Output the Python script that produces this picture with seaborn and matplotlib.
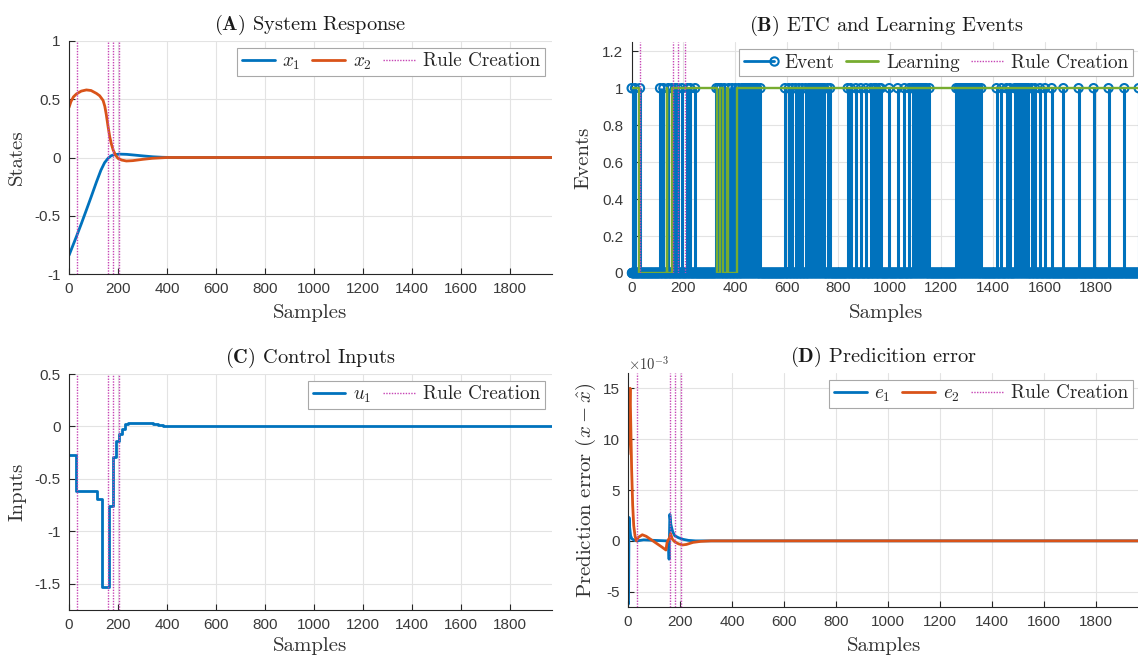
import numpy as np
import pandas as pd
import matplotlib
matplotlib.use("Agg")
import matplotlib.pyplot as plt
import seaborn as sns
from matplotlib.lines import Line2D
from matplotlib.legend_handler import HandlerBase

# ---------------- data ----------------
n_samples = 1970
xticks = [0, 200, 400, 600, 800, 1000, 1200, 1400, 1600, 1800]
rule_creation = [33, 160, 181, 205]

# (A) system response
x1_t = [0, 15, 30, 50, 71, 90, 112, 130, 145, 160, 172, 185, 207, 235, 261, 300, 343, 380, 420, 1970]
x1_v = [-0.84, -0.76, -0.68, -0.57, -0.45, -0.34, -0.21, -0.11, -0.045, -0.005, 0.015, 0.025, 0.029,
        0.027, 0.022, 0.014, 0.006, 0.002, 0.0, 0.0]
x2_t = [0, 8, 18, 30, 50, 71, 90, 112, 125, 139, 146, 152, 159, 166, 173, 180, 190, 200, 215, 234,
        260, 300, 340, 400, 1970]
x2_v = [0.43, 0.48, 0.52, 0.545, 0.57, 0.58, 0.575, 0.55, 0.53, 0.49, 0.44, 0.37, 0.27, 0.18, 0.115,
        0.065, 0.02, -0.008, -0.022, -0.03, -0.027, -0.016, -0.007, 0.0, 0.0]

# (B) events / learning
events = [0, 13, 32,
          110, 123, 142, 156, 168, 179, 195, 216, 227, 246,
          328, 337, 346, 359, 376, 389, 402, 415, 428, 433, 438, 443, 448, 453, 458, 463, 468,
          473, 478, 483, 486, 499,
          594, 609, 623, 635, 648, 661, 674, 687, 692, 697, 702, 707, 712, 717, 722, 727, 732,
          737, 742, 746, 759, 769,
          837, 849, 869, 888, 908, 927, 940, 947, 960, 966, 998, 1031, 1057, 1076, 1089, 1094,
          1099, 1104, 1109, 1114, 1119, 1124, 1129, 1134, 1138, 1141, 1154,
          1258, 1266, 1272, 1278, 1284, 1290, 1296, 1302, 1308, 1314, 1320, 1326, 1332, 1338,
          1344, 1355,
          1414, 1433, 1453, 1466, 1485, 1490, 1495, 1500, 1505, 1510, 1515, 1520, 1525, 1530,
          1537, 1550, 1563, 1582, 1602,
          1628, 1673, 1732, 1790, 1848, 1909, 1965]
learn_t = [0, 30, 136, 138, 158, 329, 342, 355, 370, 372, 410, 1970]
learn_v = [1, 0, 1, 0, 1, 0, 1, 0, 1, 0, 1, 1]

# (C) control input (piecewise constant)
u1_t = [0, 27, 114, 136, 162, 180, 193, 204, 215, 229, 242, 343, 362, 382, 411, 440, 1970]
u1_v = [-0.27, -0.615, -0.69, -1.53, -0.76, -0.29, -0.14, -0.075, -0.025, 0.02, 0.036, 0.026,
        0.016, 0.007, 0.002, 0.0, 0.0]

# (D) prediction error (units of 1e-3)
e1_t = [0, 2, 4, 6, 10, 15, 25, 35, 60, 100, 150, 156, 158, 161, 165, 172, 180, 195, 212, 232,
        260, 1970]
e1_v = [-6.0, -6.2, 2.3, 1.4, 0.5, 0.2, 0.05, 0.0, 0.1, 0.05, 0.0, -0.3, -1.8, 2.6, 1.6, 0.9,
        0.5, 0.3, 0.15, 0.05, 0.0, 0.0]
e2_t = [0, 3, 8, 11, 14, 18, 22, 27, 32, 40, 55, 70, 90, 110, 130, 146, 150, 155, 160, 164,
        170, 180, 195, 210, 225, 250, 280, 320, 1970]
e2_v = [8.5, 10.5, 15.0, 11.0, 7.0, 3.5, 1.5, 0.5, 0.0, 0.35, 0.6, 0.45, 0.1, -0.25, -0.6, -0.9,
        -0.2, 0.1, 0.3, 0.7, 0.2, -0.1, -0.3, -0.4, -0.35, -0.15, -0.05, 0.0, 0.0]

# ---------------- style ----------------
sns.set_style("white")
plt.rcParams.update({
    "font.family": ["cmr10", "DejaVu Serif"],
    "mathtext.fontset": "cm",
    "axes.formatter.use_mathtext": False,
    "axes.unicode_minus": False,
})

BLUE = "#0072BD"
ORANGE = "#D95319"
GREEN = "#77AC30"
MAG = "#C644B4"
AXC = "#262626"
GRIDC = "#e3e3e3"
TXT = "#333333"
TICKFONT = "Liberation Sans"

W, H = 1138, 657
fig = plt.figure(figsize=(W / 100, H / 100), dpi=100)
axA = fig.add_axes([69 / W, 1 - 274 / H, 483 / W, 233 / H])
axB = fig.add_axes([631.7 / W, 1 - 273 / H, (1140 - 631.7) / W, 231 / H])
axC = fig.add_axes([69 / W, 1 - 610 / H, 483 / W, 236 / H])
axD = fig.add_axes([628 / W, 1 - 607 / H, (1140 - 628) / W, 234 / H])


class StemHandler(HandlerBase):
    def create_artists(self, legend, orig_handle, xdescent, ydescent, width, height, fontsize, trans):
        y = height / 2 - ydescent
        ln = Line2D([-xdescent, width - xdescent - 2], [y, y], color=BLUE, lw=2)
        mk = Line2D([width - xdescent - 2], [y], marker="o", ms=6, mfc="none", mec=BLUE, mew=1.5, ls="none")
        ln.set_transform(trans)
        mk.set_transform(trans)
        return [ln, mk]


def style(ax, ylim, yticks, ylabels, xlabel_y, ylabel, ylabel_x, title, xmax):
    ax.set_xlim(0, xmax)
    ax.set_ylim(*ylim)
    ax.set_xticks(xticks, [str(t) for t in xticks])
    ax.set_yticks(yticks, ylabels)
    ax.grid(True, color=GRIDC, lw=0.8)
    ax.set_axisbelow(True)
    for s in ["top", "right"]:
        ax.spines[s].set_visible(False)
    for s in ["left", "bottom"]:
        ax.spines[s].set_color(AXC)
        ax.spines[s].set_linewidth(0.8)
    ax.tick_params(direction="in", length=4, width=0.8, colors=AXC, labelsize=11,
                   labelcolor="#3a3a3a", labelfontfamily=TICKFONT, pad=6,
                   left=True, bottom=True)
    ax.set_xlabel("Samples", fontsize=15, color=TXT)
    ax.xaxis.set_label_coords(0.5, xlabel_y)
    ax.set_ylabel(ylabel, fontsize=15, color=TXT)
    ax.yaxis.set_label_coords(ylabel_x, 0.5)
    ax.set_title(title, fontsize=14.7, pad=8, color="#1a1a1a")


def rules(ax):
    for r in rule_creation:
        ax.axvline(r, color=MAG, lw=1.0, ls=(0, (1, 1)), zorder=5)


rule_handle = Line2D([], [], color=MAG, lw=1.0, ls=(0, (1, 1)))
leg_kw = dict(loc="upper right", ncol=3, fontsize=13.8, frameon=True, fancybox=False,
              framealpha=1, edgecolor="#a8a8a8", borderaxespad=0.35, handlelength=1.7,
              handletextpad=0.4, columnspacing=0.6, borderpad=0.25)

# ---- (A)
dfA1 = pd.DataFrame({"t": x1_t, "v": x1_v})
dfA2 = pd.DataFrame({"t": x2_t, "v": x2_v})
sns.lineplot(data=dfA1, x="t", y="v", ax=axA, color=BLUE, lw=2, errorbar=None)
sns.lineplot(data=dfA2, x="t", y="v", ax=axA, color=ORANGE, lw=2, errorbar=None)
rules(axA)
style(axA, (-1, 1), [-1, -0.5, 0, 0.5, 1], ["-1", "-0.5", "0", "0.5", "1"], -0.13,
      "States", -0.09, r"$\mathbf{(A)}$ System Response", n_samples)
leg = axA.legend([Line2D([], [], color=BLUE, lw=2), Line2D([], [], color=ORANGE, lw=2), rule_handle],
                 [r"$x_1$", r"$x_2$", "Rule Creation"], **leg_kw)
leg.get_frame().set_linewidth(0.8)

# ---- (B)
samples = np.arange(n_samples)
flags = np.isin(samples, events).astype(float)
ev = np.array(events)
axB.vlines(ev, 0, 1, color=BLUE, lw=2.2, zorder=3)
dfB = pd.DataFrame({"t": samples, "v": flags})
sns.scatterplot(data=dfB, x="t", y="v", ax=axB, marker="o", s=36, linewidth=1.5,
                zorder=4, clip_on=False, legend=False)
coll = axB.collections[-1]
coll.set_facecolor("none")
coll.set_edgecolor(BLUE)
dfL = pd.DataFrame({"t": learn_t, "v": learn_v})
sns.lineplot(data=dfL, x="t", y="v", ax=axB, color=GREEN, lw=1.7, drawstyle="steps-post",
             errorbar=None, zorder=4.5)
rules(axB)
style(axB, (0, 1.25), [0, 0.2, 0.4, 0.6, 0.8, 1, 1.2], ["0", "0.2", "0.4", "0.6", "0.8", "1", "1.2"],
      -0.135, "Events", -0.077, r"$\mathbf{(B)}$ ETC and Learning Events", n_samples)
ev_handle = Line2D([], [], color=BLUE)
leg = axB.legend([ev_handle, Line2D([], [], color=GREEN, lw=2), rule_handle],
                 ["Event", "Learning", "Rule Creation"],
                 handler_map={ev_handle: StemHandler()}, **leg_kw)
leg.get_frame().set_linewidth(0.8)

# ---- (C)
dfC = pd.DataFrame({"t": u1_t, "v": u1_v})
sns.lineplot(data=dfC, x="t", y="v", ax=axC, color=BLUE, lw=2, drawstyle="steps-post", errorbar=None)
rules(axC)
style(axC, (-1.75, 0.5), [-1.5, -1, -0.5, 0, 0.5], ["-1.5", "-1", "-0.5", "0", "0.5"], -0.115,
      "Inputs", -0.088, r"$\mathbf{(C)}$ Control Inputs", n_samples)
leg = axC.legend([Line2D([], [], color=BLUE, lw=2), rule_handle], [r"$u_1$", "Rule Creation"], **leg_kw)
leg.get_frame().set_linewidth(0.8)

# ---- (D)
dfD1 = pd.DataFrame({"t": e1_t, "v": e1_v})
dfD2 = pd.DataFrame({"t": e2_t, "v": e2_v})
sns.lineplot(data=dfD1, x="t", y="v", ax=axD, color=BLUE, lw=2, errorbar=None)
sns.lineplot(data=dfD2, x="t", y="v", ax=axD, color=ORANGE, lw=2, errorbar=None)
rules(axD)
style(axD, (-6.5, 16.5), [-5, 0, 5, 10, 15], ["-5", "0", "5", "10", "15"], -0.128,
      r"Prediction error $(x-\hat{x})$", -0.058, r"$\mathbf{(D)}$ Predicition error", n_samples)
axD.text(0.0, 1.0, r"$\times10^{-3}$", transform=axD.transAxes, fontsize=10.5,
         ha="left", va="bottom", color="#3a3a3a")
leg = axD.legend([Line2D([], [], color=BLUE, lw=2), Line2D([], [], color=ORANGE, lw=2), rule_handle],
                 [r"$e_1$", r"$e_2$", "Rule Creation"], **leg_kw)
leg.get_frame().set_linewidth(0.8)

fig.savefig("out.png", dpi=100)
